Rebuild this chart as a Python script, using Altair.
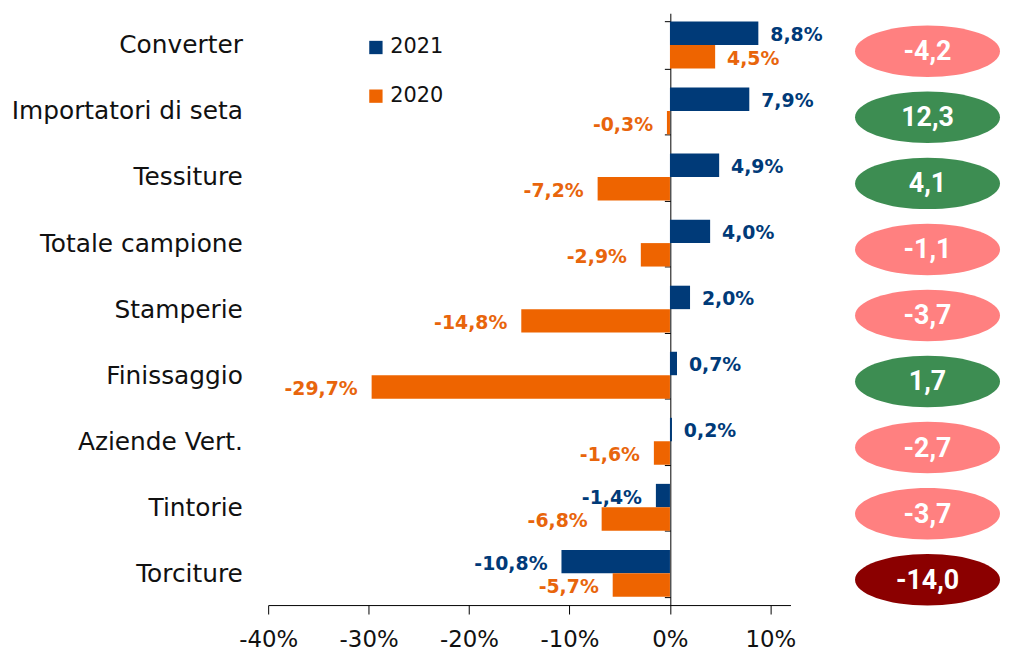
import altair as alt
import pandas as pd

categories = ["Converter", "Importatori di seta", "Tessiture", "Totale campione",
              "Stamperie", "Finissaggio", "Aziende Vert.", "Tintorie", "Torciture"]
values_2021 = [8.8, 7.9, 4.9, 4.0, 2.0, 0.7, 0.2, -1.4, -10.8]
values_2020 = [4.5, -0.3, -7.2, -2.9, -14.8, -29.7, -1.6, -6.8, -5.7]
delta_values = [-4.2, 12.3, 4.1, -1.1, -3.7, 1.7, -2.7, -3.7, -14.0]
delta_class = ["neg", "pos", "pos", "neg", "neg", "pos", "neg", "neg", "strong"]
series = ["2021", "2020"]

def fmt(v, pct=True):
    s = f"{v:.1f}".replace(".", ",")
    return s + "%" if pct else s

rows = []
for c, a, b in zip(categories, values_2021, values_2020):
    rows.append({"cat": c, "serie": "2021", "v": a / 100, "lab": fmt(a)})
    rows.append({"cat": c, "serie": "2020", "v": b / 100, "lab": fmt(b)})
df = pd.DataFrame(rows)

ell = pd.DataFrame({"cat": categories, "d": delta_values,
                    "lab": [fmt(v, False) for v in delta_values],
                    "cls": delta_class})

FONT = "DejaVu Sans"
NAVY = "#003A78"
ORANGE = "#EE6400"
ORANGE_TXT = "#E8650C"

ycat = alt.Y("cat:N", sort=categories,
             scale=alt.Scale(paddingInner=0.29, paddingOuter=0.125),
             axis=alt.Axis(title=None, offset=-405, tickBand="extent", tickSize=6,
                           domainColor="#000000", tickColor="#000000",
                           labelFont=FONT, labelFontSize=25, labelColor="#111111",
                           labelPadding=425, labelLimit=400))
xq = alt.X("v:Q", scale=alt.Scale(domain=[-0.4, 0.12], nice=False),
           axis=alt.Axis(title=None, values=[-0.4, -0.3, -0.2, -0.1, 0, 0.1],
                         labelExpr="(datum.value<0?'-':'') + format(abs(datum.value)*100,'.0f') + '%'",
                         grid=False, tickSize=9, domainColor="#000000", tickColor="#000000",
                         labelFont=FONT, labelFontSize=23, labelColor="#111111",
                         labelPadding=15, labelFlush=False, labelOverlap=False))
col = alt.Color("serie:N", sort=series,
                scale=alt.Scale(domain=series, range=[NAVY, ORANGE]),
                legend=alt.Legend(title=None, orient="none", legendX=98, legendY=24,
                                  symbolType="square", symbolSize=180,
                                  labelFont=FONT, labelFontSize=21, labelColor="#111111",
                                  rowPadding=27, symbolStrokeWidth=0))
txtcol = alt.Color("serie:N", sort=series,
                   scale=alt.Scale(domain=series, range=[NAVY, ORANGE_TXT]), legend=None)
yoff = alt.YOffset("serie:N", sort=series, scale=alt.Scale(domain=series, paddingInner=0, paddingOuter=0))

base = alt.Chart(df)
bars = base.mark_bar().encode(y=ycat, x=xq, yOffset=yoff, color=col)

txt_pos = base.transform_filter("datum.v >= 0").mark_text(
    align="left", baseline="middle", dx=12, dy=2, fontWeight="bold", font=FONT, fontSize=19
).encode(y=alt.Y("cat:N", sort=categories), x="v:Q", yOffset=yoff, text="lab:N", color=txtcol)
txt_neg = base.transform_filter("datum.v < 0").mark_text(
    align="right", baseline="middle", dx=-14, dy=2, fontWeight="bold", font=FONT, fontSize=19
).encode(y=alt.Y("cat:N", sort=categories), x="v:Q", yOffset=yoff, text="lab:N", color=txtcol)

k = 0.5523
r = 0.355
ellipse_path = (f"M -1 0 C -1 {-r*k:.4f} {-k:.4f} {-r} 0 {-r} "
                f"C {k:.4f} {-r} 1 {-r*k:.4f} 1 0 "
                f"C 1 {r*k:.4f} {k:.4f} {r} 0 {r} "
                f"C {-k:.4f} {r} -1 {r*k:.4f} -1 0 Z")

ellipses = alt.Chart(ell).mark_point(shape=ellipse_path, filled=True, opacity=1, size=146 * 146).encode(
    y=alt.Y("cat:N", sort=categories),
    x=alt.value(664),
    yOffset=alt.value(30),
    color=alt.Color("cls:N", scale=alt.Scale(domain=["neg", "pos", "strong"],
                                             range=["#FF8080", "#3D8D52", "#8B0000"]),
                    legend=None),
)
ell_text = alt.Chart(ell).mark_text(
    font="Roboto", fontSize=27, fontWeight="bold", color="white", baseline="middle", align="center"
).encode(y=alt.Y("cat:N", sort=categories), x=alt.value(664), yOffset=alt.value(31), text="lab:N")

chart = alt.layer(bars, txt_pos, txt_neg, ellipses, ell_text).resolve_scale(
    color="independent"
).properties(
    width=526, height=596,
    autosize=alt.AutoSizeParams(type="none"),
    padding={"left": 262, "top": 3, "right": 212, "bottom": 47},
).configure_view(stroke=None)

chart.save("out.html", embed_options={"renderer": "svg", "actions": False})
